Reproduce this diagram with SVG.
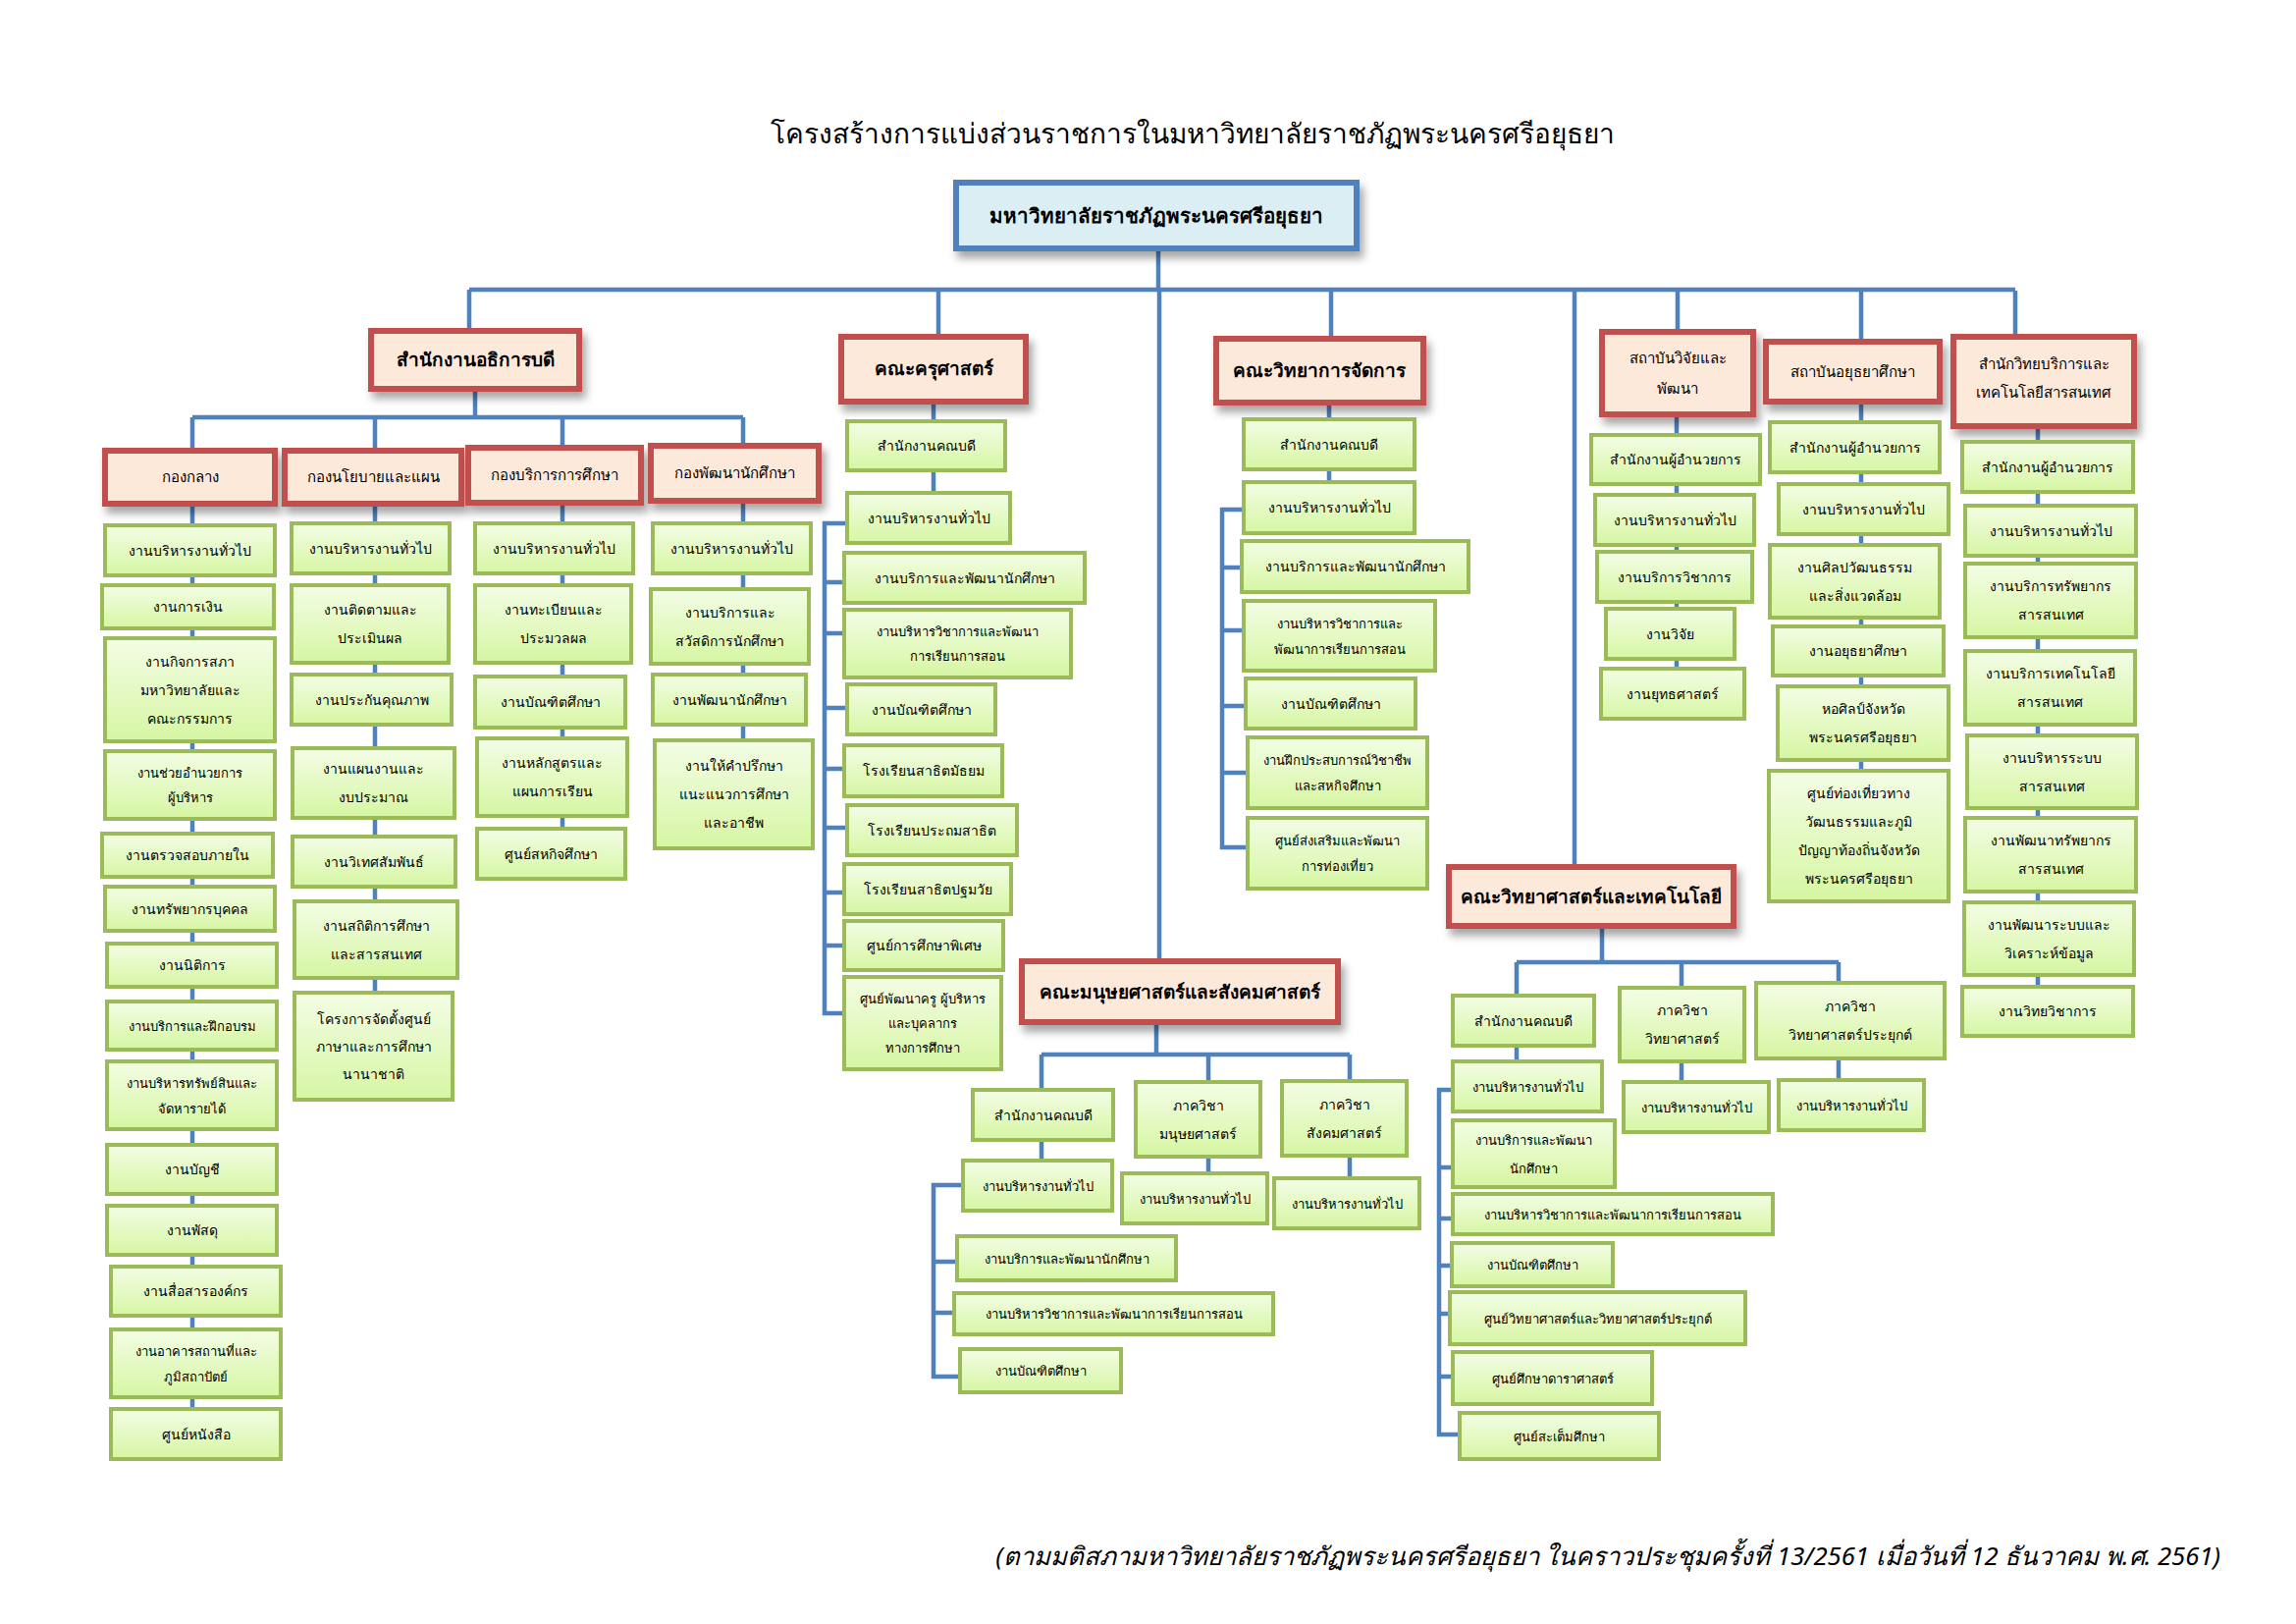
<svg xmlns="http://www.w3.org/2000/svg" width="2339" height="1654" viewBox="0 0 2339 1654">
<defs>
<linearGradient id="gg" x1="0" y1="0" x2="0" y2="1">
<stop offset="0" stop-color="#f3fde6"/>
<stop offset="1" stop-color="#d6f6a2"/>
</linearGradient>
<filter id="sh" x="-10%" y="-10%" width="130%" height="150%">
<feDropShadow dx="4" dy="7" stdDeviation="4" flood-color="#000" flood-opacity="0.35"/>
</filter>
<style>
.g{fill:url(#gg);stroke:#9bbb59;stroke-width:4}
.r{fill:#fde9d9;stroke:#c0504d;stroke-width:6;filter:url(#sh)}
.b{fill:#dbeef4;stroke:#4f81bd;stroke-width:6;filter:url(#sh)}
.c path{fill:none;stroke:#4f81bd;stroke-width:4.5}
text{font-family:"Noto Sans","DejaVu Sans",sans-serif;text-anchor:middle;fill:#000}
.t{font-size:14px}
.s{font-size:13px}
.rt{font-size:15px}
.bt{font-size:19px;font-weight:bold}
</style>
</defs>
<rect width="2339" height="1654" fill="#fff"/>
<text id="title" x="1215" y="146" style="font-size:28px">โครงสร้างการแบ่งส่วนราชการในมหาวิทยาลัยราชภัฏพระนครศรีอยุธยา</text>

<g id="connectors" class="c">
<path d="M1180 253V296M478 295H2053M478 295V337M956 296V343M1181 296V979M1356 296V345M1604 296V883M1709 296V338M1896 296V348M2053 296V343"/>
<path d="M484 396V425M196 425H757M196 425V1435M382 425V1011M573 425V844M757 425V754"/>
<path d="M951 409V502M863 533H840V1032H860M840 593H860M840 645H860M840 721H863M840 783H860M840 843H863M840 909H860M840 963H860"/>
<path d="M1354 410V491M1267 519H1245V863H1271M1245 578H1265M1245 642H1267M1245 719H1269M1245 787H1271"/>
<path d="M1708 422V681M1896 409V785M2076 434V1005"/>
<path d="M1178 1041V1074M1061 1074H1375M1061 1074V1182M1231 1074V1195M1375 1074V1200M981 1207H951V1402H978M951 1285H975M951 1337H972"/>
<path d="M1632 943V980M1545 980H1873M1545 980V1081M1713 980V1102M1873 980V1100M1480 1110H1466V1461H1487M1466 1189H1480M1466 1241H1480M1466 1289H1479M1466 1338H1477M1466 1402H1480"/>
</g>

<g id="root"><rect class="b" x="974" y="186" width="408" height="67"/><text x="1178" y="227" class="bt" style="font-size:20.5px">มหาวิทยาลัยราชภัฏพระนครศรีอยุธยา</text></g>

<g id="president"><rect class="r" x="378" y="337" width="212" height="59"/><text x="484" y="373" class="bt">สำนักงานอธิการบดี</text></g>
<g id="edu"><rect class="r" x="857" y="343" width="188" height="66"/><text x="951" y="382" class="bt">คณะครุศาสตร์</text></g>
<g id="mgmt"><rect class="r" x="1239" y="345" width="211" height="65"/><text x="1344" y="384" class="bt">คณะวิทยาการจัดการ</text></g>
<g id="rdi"><rect class="r" x="1632" y="338" width="154" height="84"/><text x="1709" y="370" class="rt">สถาบันวิจัยและ</text><text x="1709" y="401" class="rt">พัฒนา</text></g>
<g id="ayu"><rect class="r" x="1799" y="348" width="177" height="61"/><text x="1887" y="384" class="rt">สถาบันอยุธยาศึกษา</text></g>
<g id="arit"><rect class="r" x="1990" y="343" width="184" height="91"/><text x="2082" y="376" class="rt">สำนักวิทยบริการและ</text><text x="2082" y="405" class="rt">เทคโนโลยีสารสนเทศ</text></g>
<g id="hum"><rect class="r" x="1041" y="979" width="322" height="62"/><text x="1202" y="1017" class="bt">คณะมนุษยศาสตร์และสังคมศาสตร์</text></g>
<g id="sci"><rect class="r" x="1476" y="883" width="290" height="60"/><text x="1621" y="920" class="bt">คณะวิทยาศาสตร์และเทคโนโลยี</text></g>

<g id="div1"><rect class="r" x="107" y="459" width="173" height="54"/><text x="193.5" y="491" class="rt">กองกลาง</text></g>
<g id="div2"><rect class="r" x="290" y="459" width="180" height="54"/><text x="380" y="491" class="rt">กองนโยบายและแผน</text></g>
<g id="div3"><rect class="r" x="477" y="456" width="176" height="56"/><text x="565" y="489" class="rt">กองบริการการศึกษา</text></g>
<g id="div4"><rect class="r" x="663" y="454" width="171" height="56"/><text x="748.5" y="487" class="rt">กองพัฒนานักศึกษา</text></g>

<g id="g1"><rect class="g" x="107" y="535" width="173" height="51"/><text x="193.5" y="566" class="t">งานบริหารงานทั่วไป</text></g>
<g id="g2"><rect class="g" x="104" y="596" width="175" height="44"/><text x="191.5" y="623" class="t">งานการเงิน</text></g>
<g id="g3"><rect class="g" x="107" y="650" width="173" height="105"/><text x="193.5" y="678.5" class="t">งานกิจการสภา</text><text x="193.5" y="707.5" class="t">มหาวิทยาลัยและ</text><text x="193.5" y="736.5" class="t">คณะกรรมการ</text></g>
<g id="g4"><rect class="g" x="107" y="765" width="173" height="69"/><text x="193.5" y="792" class="s">งานช่วยอำนวยการ</text><text x="193.5" y="817" class="s">ผู้บริหาร</text></g>
<g id="g5"><rect class="g" x="104" y="849" width="174" height="44"/><text x="191" y="876" class="t">งานตรวจสอบภายใน</text></g>
<g id="g6"><rect class="g" x="107" y="903" width="173" height="45"/><text x="193.5" y="931" class="t">งานทรัพยากรบุคคล</text></g>
<g id="g7"><rect class="g" x="109" y="961" width="173" height="44"/><text x="195.5" y="988" class="t">งานนิติการ</text></g>
<g id="g8"><rect class="g" x="109" y="1020" width="173" height="49"/><text x="195.5" y="1050" class="s">งานบริการและฝึกอบรม</text></g>
<g id="g9"><rect class="g" x="109" y="1081" width="173" height="69"/><text x="195.5" y="1107.5" class="s">งานบริหารทรัพย์สินและ</text><text x="195.5" y="1133.5" class="s">จัดหารายได้</text></g>
<g id="g10"><rect class="g" x="109" y="1166" width="173" height="50"/><text x="195.5" y="1196" class="t">งานบัญชี</text></g>
<g id="g11"><rect class="g" x="109" y="1228" width="173" height="50"/><text x="195.5" y="1258" class="t">งานพัสดุ</text></g>
<g id="g12"><rect class="g" x="113" y="1290" width="173" height="50"/><text x="199.5" y="1320" class="t">งานสื่อสารองค์กร</text></g>
<g id="g13"><rect class="g" x="113" y="1354" width="173" height="69"/><text x="199.5" y="1380.5" class="s">งานอาคารสถานที่และ</text><text x="199.5" y="1406.5" class="s">ภูมิสถาปัตย์</text></g>
<g id="g14"><rect class="g" x="113" y="1435" width="173" height="51"/><text x="199.5" y="1466" class="t">ศูนย์หนังสือ</text></g>

<g id="p1"><rect class="g" x="297" y="533" width="161" height="51"/><text x="377.5" y="564" class="t">งานบริหารงานทั่วไป</text></g>
<g id="p2"><rect class="g" x="297" y="596" width="160" height="79"/><text x="377" y="626" class="t">งานติดตามและ</text><text x="377" y="655" class="t">ประเมินผล</text></g>
<g id="p3"><rect class="g" x="297" y="687" width="163" height="51"/><text x="378.5" y="718" class="t">งานประกันคุณภาพ</text></g>
<g id="p4"><rect class="g" x="298" y="762" width="165" height="71"/><text x="380.5" y="788" class="t">งานแผนงานและ</text><text x="380.5" y="817" class="t">งบประมาณ</text></g>
<g id="p5"><rect class="g" x="298" y="852" width="166" height="51"/><text x="381" y="883" class="t">งานวิเทศสัมพันธ์</text></g>
<g id="p6"><rect class="g" x="300" y="918" width="166" height="78"/><text x="383" y="947.5" class="t">งานสถิติการศึกษา</text><text x="383" y="976.5" class="t">และสารสนเทศ</text></g>
<g id="p7"><rect class="g" x="300" y="1011" width="161" height="109"/><text x="380.5" y="1042.5" class="t">โครงการจัดตั้งศูนย์</text><text x="380.5" y="1070.5" class="t">ภาษาและการศึกษา</text><text x="380.5" y="1098.5" class="t">นานาชาติ</text></g>

<g id="s1"><rect class="g" x="484" y="533" width="161" height="51"/><text x="564.5" y="564" class="t">งานบริหารงานทั่วไป</text></g>
<g id="s2"><rect class="g" x="484" y="596" width="159" height="79"/><text x="563.5" y="626" class="t">งานทะเบียนและ</text><text x="563.5" y="655" class="t">ประมวลผล</text></g>
<g id="s3"><rect class="g" x="484" y="689" width="153" height="52"/><text x="560.5" y="720" class="t">งานบัณฑิตศึกษา</text></g>
<g id="s4"><rect class="g" x="486" y="752" width="153" height="79"/><text x="562.5" y="782" class="t">งานหลักสูตรและ</text><text x="562.5" y="811" class="t">แผนการเรียน</text></g>
<g id="s5"><rect class="g" x="486" y="844" width="151" height="51"/><text x="561.5" y="875" class="t">ศูนย์สหกิจศึกษา</text></g>

<g id="d1"><rect class="g" x="665" y="533" width="161" height="51"/><text x="745.5" y="564" class="t">งานบริหารงานทั่วไป</text></g>
<g id="d2"><rect class="g" x="663" y="600" width="161" height="76"/><text x="743.5" y="628.5" class="t">งานบริการและ</text><text x="743.5" y="657.5" class="t">สวัสดิการนักศึกษา</text></g>
<g id="d3"><rect class="g" x="665" y="687" width="156" height="51"/><text x="743" y="718" class="t">งานพัฒนานักศึกษา</text></g>
<g id="d4"><rect class="g" x="667" y="754" width="161" height="110"/><text x="747.5" y="785" class="t">งานให้คำปรึกษา</text><text x="747.5" y="814" class="t">แนะแนวการศึกษา</text><text x="747.5" y="843" class="t">และอาชีพ</text></g>

<g id="e1"><rect class="g" x="863" y="429" width="161" height="50"/><text x="943.5" y="459" class="t">สำนักงานคณบดี</text></g>
<g id="e2"><rect class="g" x="863" y="502" width="166" height="51"/><text x="946" y="533" class="t">งานบริหารงานทั่วไป</text></g>
<g id="e3"><rect class="g" x="860" y="563" width="245" height="51"/><text x="982.5" y="594" class="t">งานบริการและพัฒนานักศึกษา</text></g>
<g id="e4"><rect class="g" x="860" y="621" width="231" height="69"/><text x="975.5" y="648" class="s">งานบริหารวิชาการและพัฒนา</text><text x="975.5" y="673" class="s">การเรียนการสอน</text></g>
<g id="e5"><rect class="g" x="863" y="697" width="151" height="51"/><text x="938.5" y="728" class="t">งานบัณฑิตศึกษา</text></g>
<g id="e6"><rect class="g" x="860" y="759" width="161" height="52"/><text x="940.5" y="790" class="t">โรงเรียนสาธิตมัธยม</text></g>
<g id="e7"><rect class="g" x="863" y="820" width="173" height="51"/><text x="949.5" y="851" class="t">โรงเรียนประถมสาธิต</text></g>
<g id="e8"><rect class="g" x="860" y="880" width="170" height="51"/><text x="945" y="911" class="t">โรงเรียนสาธิตปฐมวัย</text></g>
<g id="e9"><rect class="g" x="860" y="938" width="162" height="50"/><text x="941" y="968" class="t">ศูนย์การศึกษาพิเศษ</text></g>
<g id="e10"><rect class="g" x="860" y="995" width="160" height="94"/><text x="940" y="1022" class="s">ศูนย์พัฒนาครู ผู้บริหาร</text><text x="940" y="1047" class="s">และบุคลากร</text><text x="940" y="1072" class="s">ทางการศึกษา</text></g>

<g id="m1"><rect class="g" x="1267" y="427" width="174" height="51"/><text x="1354" y="458" class="t">สำนักงานคณบดี</text></g>
<g id="m2"><rect class="g" x="1267" y="491" width="174" height="52"/><text x="1354" y="522" class="t">งานบริหารงานทั่วไป</text></g>
<g id="m3"><rect class="g" x="1265" y="551" width="231" height="52"/><text x="1380.5" y="582" class="t">งานบริการและพัฒนานักศึกษา</text></g>
<g id="m4"><rect class="g" x="1267" y="612" width="195" height="71"/><text x="1364.5" y="639.5" class="s">งานบริหารวิชาการและ</text><text x="1364.5" y="665.5" class="s">พัฒนาการเรียนการสอน</text></g>
<g id="m5"><rect class="g" x="1269" y="691" width="173" height="51"/><text x="1355.5" y="722" class="t">งานบัณฑิตศึกษา</text></g>
<g id="m6"><rect class="g" x="1271" y="751" width="183" height="72"/><text x="1362.5" y="779" class="s">งานฝึกประสบการณ์วิชาชีพ</text><text x="1362.5" y="805" class="s">และสหกิจศึกษา</text></g>
<g id="m7"><rect class="g" x="1271" y="833" width="183" height="72"/><text x="1362.5" y="861" class="s">ศูนย์ส่งเสริมและพัฒนา</text><text x="1362.5" y="887" class="s">การท่องเที่ยว</text></g>

<g id="r1"><rect class="g" x="1621" y="443" width="172" height="50"/><text x="1707" y="473" class="t">สำนักงานผู้อำนวยการ</text></g>
<g id="r2"><rect class="g" x="1625" y="504" width="162" height="51"/><text x="1706" y="535" class="t">งานบริหารงานทั่วไป</text></g>
<g id="r3"><rect class="g" x="1627" y="562" width="158" height="51"/><text x="1706" y="593" class="t">งานบริการวิชาการ</text></g>
<g id="r4"><rect class="g" x="1636" y="620" width="131" height="51"/><text x="1701.5" y="651" class="t">งานวิจัย</text></g>
<g id="r5"><rect class="g" x="1631" y="681" width="146" height="51"/><text x="1704" y="712" class="t">งานยุทธศาสตร์</text></g>

<g id="a1"><rect class="g" x="1803" y="430" width="173" height="51"/><text x="1889.5" y="461" class="t">สำนักงานผู้อำนวยการ</text></g>
<g id="a2"><rect class="g" x="1812" y="493" width="173" height="51"/><text x="1898.5" y="524" class="t">งานบริหารงานทั่วไป</text></g>
<g id="a3"><rect class="g" x="1803" y="555" width="173" height="74"/><text x="1889.5" y="582.5" class="t">งานศิลปวัฒนธรรม</text><text x="1889.5" y="611.5" class="t">และสิ่งแวดล้อม</text></g>
<g id="a4"><rect class="g" x="1806" y="638" width="174" height="50"/><text x="1893" y="668" class="t">งานอยุธยาศึกษา</text></g>
<g id="a5"><rect class="g" x="1811" y="699" width="174" height="75"/><text x="1898" y="727" class="t">หอศิลป์จังหวัด</text><text x="1898" y="756" class="t">พระนครศรีอยุธยา</text></g>
<g id="a6"><rect class="g" x="1802" y="785" width="183" height="133"/><text x="1893.5" y="813" class="t">ศูนย์ท่องเที่ยวทาง</text><text x="1893.5" y="842" class="t">วัฒนธรรมและภูมิ</text><text x="1893.5" y="871" class="t">ปัญญาท้องถิ่นจังหวัด</text><text x="1893.5" y="900" class="t">พระนครศรีอยุธยา</text></g>

<g id="t1"><rect class="g" x="1999" y="450" width="174" height="51"/><text x="2086" y="481" class="t">สำนักงานผู้อำนวยการ</text></g>
<g id="t2"><rect class="g" x="2002" y="515" width="174" height="51"/><text x="2089" y="546" class="t">งานบริหารงานทั่วไป</text></g>
<g id="t3"><rect class="g" x="2002" y="574" width="174" height="75"/><text x="2089" y="602" class="t">งานบริการทรัพยากร</text><text x="2089" y="631" class="t">สารสนเทศ</text></g>
<g id="t4"><rect class="g" x="2002" y="663" width="173" height="75"/><text x="2088.5" y="691" class="t">งานบริการเทคโนโลยี</text><text x="2088.5" y="720" class="t">สารสนเทศ</text></g>
<g id="t5"><rect class="g" x="2004" y="749" width="173" height="74"/><text x="2090.5" y="776.5" class="t">งานบริหารระบบ</text><text x="2090.5" y="805.5" class="t">สารสนเทศ</text></g>
<g id="t6"><rect class="g" x="2002" y="833" width="174" height="75"/><text x="2089" y="861" class="t">งานพัฒนาทรัพยากร</text><text x="2089" y="890" class="t">สารสนเทศ</text></g>
<g id="t7"><rect class="g" x="2001" y="919" width="173" height="74"/><text x="2087.5" y="946.5" class="t">งานพัฒนาระบบและ</text><text x="2087.5" y="975.5" class="t">วิเคราะห์ข้อมูล</text></g>
<g id="t8"><rect class="g" x="1999" y="1005" width="174" height="50"/><text x="2086" y="1035" class="t">งานวิทยวิชาการ</text></g>

<g id="h1"><rect class="g" x="991" y="1110" width="143" height="51"/><text x="1062.5" y="1141" class="t">สำนักงานคณบดี</text></g>
<g id="h2"><rect class="g" x="1157" y="1102" width="127" height="76"/><text x="1220.5" y="1130.5" class="t">ภาควิชา</text><text x="1220.5" y="1159.5" class="t">มนุษยศาสตร์</text></g>
<g id="h3"><rect class="g" x="1306" y="1101" width="127" height="76"/><text x="1369.5" y="1129.5" class="t">ภาควิชา</text><text x="1369.5" y="1158.5" class="t">สังคมศาสตร์</text></g>
<g id="h4"><rect class="g" x="981" y="1182" width="152" height="51"/><text x="1057" y="1213" class="s">งานบริหารงานทั่วไป</text></g>
<g id="h5"><rect class="g" x="1143" y="1195" width="148" height="51"/><text x="1217" y="1226" class="s">งานบริหารงานทั่วไป</text></g>
<g id="h6"><rect class="g" x="1298" y="1200" width="148" height="51"/><text x="1372" y="1231" class="s">งานบริหารงานทั่วไป</text></g>
<g id="h7"><rect class="g" x="975" y="1259" width="223" height="45"/><text x="1086.5" y="1287" class="s">งานบริการและพัฒนานักศึกษา</text></g>
<g id="h8"><rect class="g" x="972" y="1317" width="325" height="42"/><text x="1134.5" y="1343" class="s">งานบริหารวิชาการและพัฒนาการเรียนการสอน</text></g>
<g id="h9"><rect class="g" x="978" y="1374" width="164" height="44"/><text x="1060" y="1401" class="s">งานบัณฑิตศึกษา</text></g>

<g id="c1"><rect class="g" x="1480" y="1014" width="144" height="51"/><text x="1552" y="1045" class="t">สำนักงานคณบดี</text></g>
<g id="c2"><rect class="g" x="1650" y="1006" width="127" height="75"/><text x="1713.5" y="1034" class="t">ภาควิชา</text><text x="1713.5" y="1063" class="t">วิทยาศาสตร์</text></g>
<g id="c3"><rect class="g" x="1789" y="1001" width="192" height="77"/><text x="1885" y="1030" class="t">ภาควิชา</text><text x="1885" y="1059" class="t">วิทยาศาสตร์ประยุกต์</text></g>
<g id="c4"><rect class="g" x="1480" y="1081" width="152" height="51"/><text x="1556" y="1112" class="s">งานบริหารงานทั่วไป</text></g>
<g id="c5"><rect class="g" x="1654" y="1102" width="148" height="51"/><text x="1728" y="1133" class="s">งานบริหารงานทั่วไป</text></g>
<g id="c6"><rect class="g" x="1812" y="1100" width="148" height="51"/><text x="1886" y="1131" class="s">งานบริหารงานทั่วไป</text></g>
<g id="c7"><rect class="g" x="1480" y="1141" width="165" height="68"/><text x="1562.5" y="1165.5" class="s">งานบริการและพัฒนา</text><text x="1562.5" y="1194.5" class="s">นักศึกษา</text></g>
<g id="c8"><rect class="g" x="1480" y="1216" width="326" height="41"/><text x="1643" y="1242" class="s">งานบริหารวิชาการและพัฒนาการเรียนการสอน</text></g>
<g id="c9"><rect class="g" x="1479" y="1266" width="164" height="44"/><text x="1561" y="1293" class="s">งานบัณฑิตศึกษา</text></g>
<g id="c10"><rect class="g" x="1477" y="1316" width="301" height="53"/><text x="1627.5" y="1348" class="s">ศูนย์วิทยาศาสตร์และวิทยาศาสตร์ประยุกต์</text></g>
<g id="c11"><rect class="g" x="1480" y="1377" width="203" height="53"/><text x="1581.5" y="1409" class="s">ศูนย์ศึกษาดาราศาสตร์</text></g>
<g id="c12"><rect class="g" x="1487" y="1439" width="203" height="47"/><text x="1588.5" y="1468" class="s">ศูนย์สะเต็มศึกษา</text></g>

<text id="footer" x="2262" y="1594" style="font-size:25.7px;font-style:italic;text-anchor:end">(ตามมติสภามหาวิทยาลัยราชภัฏพระนครศรีอยุธยา ในคราวประชุมครั้งที่ 13/2561 เมื่อวันที่ 12 ธันวาคม พ.ศ. 2561)</text>
</svg>
